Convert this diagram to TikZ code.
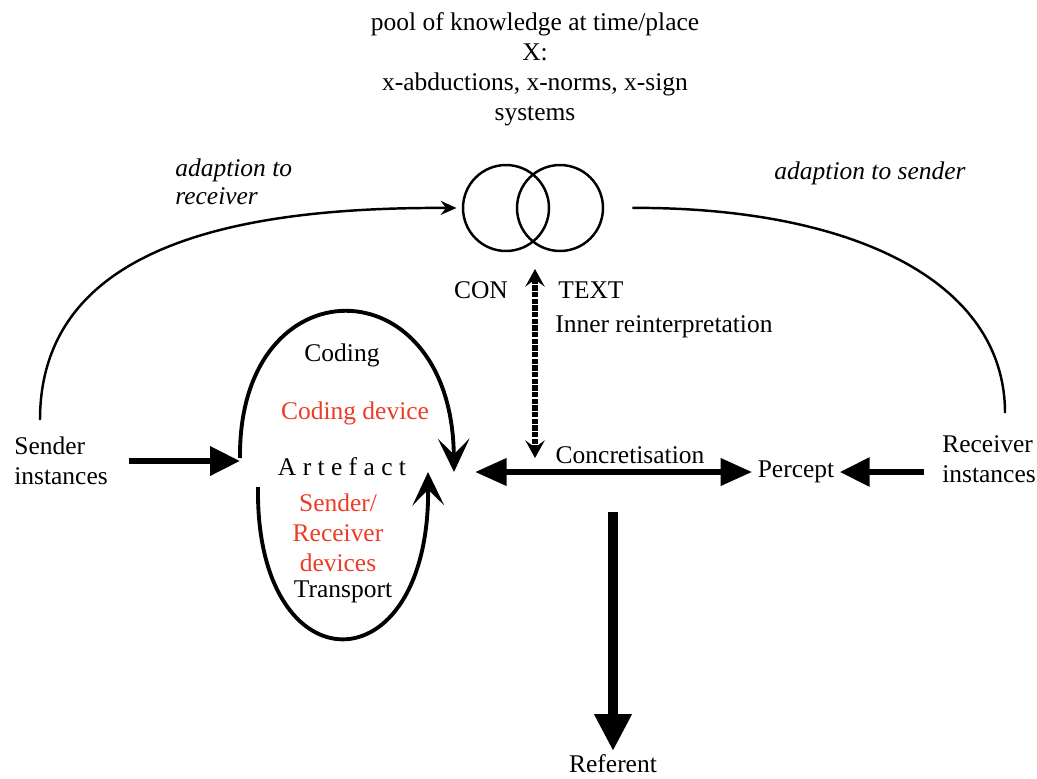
\documentclass[tikz,border=0pt]{standalone}
\usepackage{fontspec}
\setmainfont{Liberation Serif}
\usetikzlibrary{arrows.meta}
\definecolor{devred}{RGB}{236,60,38}
\tikzstyle{txt} = [font=\fontsize{14.5}{17}\selectfont, inner sep=0pt]
\tikzstyle{device} = [txt, text=devred, align=center]
\tikzstyle{adapt} = [font=\fontsize{14.5}{16}\selectfont\itshape, inner sep=0pt, align=left]
\tikzstyle{ctx} = [circle, draw, line width=1.4pt, minimum size=1.72cm]
\tikzstyle{arc} = [line width=1.4pt]
\tikzstyle{loop} = [line width=2.2pt, -{Stealth[length=19pt,width=18pt,inset=9pt]}]
\tikzstyle{arrow} = [line width=3.4pt, -{Triangle[length=17pt,width=16pt]}]
\tikzstyle{bigarrow} = [line width=5.7pt, -{Triangle[length=21pt,width=20pt]}]
\tikzstyle{reinterp} = [line width=3.2pt, dash pattern=on 3pt off 0.8pt, {Stealth[length=10pt,width=11pt,inset=4pt]}-{Stealth[length=10pt,width=11pt,inset=4pt]}]

\begin{document}
\begin{tikzpicture}[x=0.02cm, y=-0.02cm]

    \useasboundingbox (0,0) rectangle (1037,778);

    \node (pool) [txt, align=center] at (535,69) {pool of knowledge at time/place\\X:\\x-abductions, x-norms, x-sign\\systems};
    \node (adaptR) [adapt, anchor=north west] at (175,158) {adaption to\\receiver};
    \node (adaptS) [adapt] at (870,173) {adaption to sender};
    \node (ctxl) [ctx] at (506,208) {};
    \node (ctxr) [ctx] at (560,208) {};
    \node (con) [txt] at (481,290) {CON};
    \node (text) [txt] at (591,290) {TEXT};
    \node (inner) [txt, anchor=west] at (555,327) {Inner reinterpretation};
    \node (coding) [txt] at (342,355) {Coding};
    \node (codingdev) [device] at (355,413) {Coding device};
    \node (artefact) [txt] at (342,467) {A r t e f a c t};
    \node (devices) [device] at (338,533) {Sender/\\Receiver\\devices};
    \node (transport) [txt] at (343,592) {Transport};
    \node (sender) [txt, align=left, anchor=west] at (14,461) {Sender\\instances};
    \node (receiver) [txt, align=left, anchor=west] at (942,459) {Receiver\\instances};
    \node (concr) [txt] at (630,455) {Concretisation};
    \node (percept) [txt, inner sep=3pt] at (796,472) {Percept};
    \node (referent) [txt, inner sep=2pt] at (613,764) {Referent};

    \coordinate (adR) at (40,420);
    \coordinate (adS) at (1005,413);
    \coordinate (codeS) at (240,458);
    \coordinate (codeE) at (454,472);
    \coordinate (transS) at (258,487);
    \coordinate (transE) at (428,472);
    \coordinate (hub) at (475,472);
    \coordinate (refS) at (613,512);
    \coordinate (reS) at (535,269);
    \coordinate (reE) at (535,458);

    \draw [arc, -{Stealth[length=9pt,width=8pt,inset=3pt]}, shorten >=3pt] (adR) .. controls (40,240) and (250,207) .. (ctxl.west);
    \draw [arc, shorten <=16pt] (ctxr.east) .. controls (850,207) and (1005,280) .. (adS);
    \draw [reinterp] (reS) -- (reE);
    \draw [loop] (codeS) .. controls (238,262) and (452,262) .. (codeE);
    \draw [loop] (transS) .. controls (255,690) and (430,690) .. (transE);
    \draw [arrow, shorten <=12pt] (sender) -- (codeS |- sender);
    \draw [arrow, {Triangle[length=18pt,width=15pt]}-{Triangle[length=18pt,width=15pt]}] (hub) -- (percept);
    \draw [arrow, shorten <=10pt] (receiver.west |- percept) -- (percept);
    \draw [bigarrow] (refS) -- (referent);

\end{tikzpicture}
\end{document}
